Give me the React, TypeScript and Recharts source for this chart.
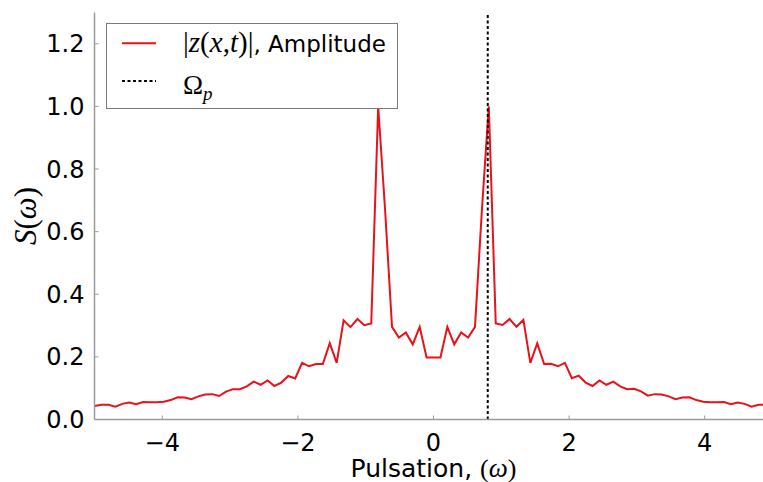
import { LineChart, Line, XAxis, YAxis, ReferenceLine, Legend, Label } from 'recharts';

// pulsation grid (omega) and normalised spectrum amplitude S(omega)
const omega = [
  -4.998, -4.896, -4.794, -4.692, -4.590, -4.488, -4.386, -4.284, -4.182, -4.080,
  -3.978, -3.876, -3.774, -3.672, -3.570, -3.468, -3.366, -3.264, -3.162, -3.060,
  -2.958, -2.856, -2.754, -2.652, -2.550, -2.448, -2.346, -2.244, -2.142, -2.040,
  -1.938, -1.836, -1.734, -1.632, -1.530, -1.428, -1.326, -1.224, -1.122, -1.020,
  -0.918, -0.816, -0.714, -0.612, -0.510, -0.408, -0.306, -0.204, -0.102, 0,
  0.102, 0.204, 0.306, 0.408, 0.510, 0.612, 0.714, 0.816, 0.918, 1.020,
  1.122, 1.224, 1.326, 1.428, 1.530, 1.632, 1.734, 1.836, 1.938, 2.040,
  2.142, 2.244, 2.346, 2.448, 2.550, 2.652, 2.754, 2.856, 2.958, 3.060,
  3.162, 3.264, 3.366, 3.468, 3.570, 3.672, 3.774, 3.876, 3.978, 4.080,
  4.182, 4.284, 4.386, 4.488, 4.590, 4.692, 4.794, 4.896, 4.998,
];

const amplitude = [
  0.043, 0.047, 0.047, 0.041, 0.050, 0.054, 0.049, 0.056, 0.055, 0.055,
  0.057, 0.062, 0.071, 0.070, 0.065, 0.074, 0.080, 0.081, 0.075, 0.089,
  0.097, 0.097, 0.106, 0.121, 0.111, 0.125, 0.107, 0.118, 0.139, 0.131,
  0.181, 0.170, 0.177, 0.177, 0.244, 0.181, 0.317, 0.295, 0.321, 0.301,
  0.307, 1.000, 0.670, 0.296, 0.262, 0.278, 0.240, 0.296, 0.198, 0.198,
  0.198, 0.296, 0.240, 0.278, 0.262, 0.296, 0.670, 1.000, 0.307, 0.302,
  0.321, 0.296, 0.318, 0.181, 0.243, 0.177, 0.178, 0.170, 0.181, 0.132,
  0.140, 0.118, 0.107, 0.125, 0.111, 0.121, 0.106, 0.097, 0.098, 0.090,
  0.076, 0.081, 0.080, 0.074, 0.065, 0.070, 0.071, 0.062, 0.057, 0.055,
  0.055, 0.056, 0.049, 0.054, 0.050, 0.041, 0.047, 0.047, 0.043,
];

const OMEGA_P = 0.8;
const xTicks = [-4, -2, 0, 2, 4];
const yTicks = [0, 0.2, 0.4, 0.6, 0.8, 1.0, 1.2];

const data = omega.map((w, i) => ({ omega: w, amp: amplitude[i] }));

const RED = '#e8121a';
const FRAME = '#9a9a9a';
const SANS = '"DejaVu Sans", sans-serif';
const MATH = '"Liberation Serif", serif';

const fmtX = (v: number) => (v < 0 ? `\u2212${Math.abs(v)}` : String(v));
const fmtY = (v: number) => v.toFixed(1);
const noTick = () => <g />;

function LegendBox() {
  return (
    <svg width={293} height={88} style={{ display: 'block' }}>
      <rect x={0.5} y={0.5} width={291} height={85} fill="#fff" stroke="#7a7a7a" strokeWidth={1} />
      <line x1={16} x2={50} y1={20.3} y2={20.3} stroke={RED} strokeWidth={2} />
      <text x={77} y={29.3} fontFamily={SANS} fontSize={23} fill="#000">
        <tspan fontFamily={MATH} fontSize={29}>|</tspan>
        <tspan fontFamily={MATH} fontSize={29} fontStyle="italic">z</tspan>
        <tspan fontFamily={MATH} fontSize={29}>(</tspan>
        <tspan fontFamily={MATH} fontSize={29} fontStyle="italic">x</tspan>
        <tspan fontFamily={MATH} fontSize={29}>,</tspan>
        <tspan fontFamily={MATH} fontSize={29} fontStyle="italic">t</tspan>
        <tspan fontFamily={MATH} fontSize={29}>)|</tspan>
        <tspan>, Amplitude</tspan>
      </text>
      <line x1={16} x2={50} y1={58} y2={58} stroke="#000" strokeWidth={2} strokeDasharray="3 2.5" />
      <text x={77} y={71} fontFamily={MATH} fontSize={27} fill="#000">
        <tspan>Ω</tspan>
        <tspan fontStyle="italic" fontSize={19} dy={6}>p</tspan>
      </text>
    </svg>
  );
}

function XLabel({ viewBox }: any) {
  const cx = viewBox.x + viewBox.width / 2;
  return (
    <text x={cx} y={viewBox.y + 57.5} textAnchor="middle" fontFamily={SANS} fontSize={25} fill="#000">
      <tspan>Pulsation, </tspan>
      <tspan fontFamily={MATH} fontSize={26}>(</tspan>
      <tspan fontFamily={MATH} fontSize={27} fontStyle="italic">ω</tspan>
      <tspan fontFamily={MATH} fontSize={26}>)</tspan>
    </text>
  );
}

function YLabel({ viewBox }: any) {
  const cy = viewBox.y + viewBox.height / 2;
  const x = 36;
  return (
    <text x={x} y={cy} transform={`rotate(-90, ${x}, ${cy})`} textAnchor="middle" fontFamily={MATH} fontSize={31} fill="#000">
      <tspan fontStyle="italic">S</tspan>
      <tspan>(</tspan>
      <tspan fontStyle="italic">ω</tspan>
      <tspan>)</tspan>
    </text>
  );
}

export default function App() {
  return (
    <div style={{ position: 'fixed', left: 0, top: 0, width: 763, height: 482, overflow: 'hidden', background: '#fff' }}>
      <LineChart width={800} height={482} data={data} margin={{ top: 12.5, right: 27.5, bottom: 0, left: 0.5 }}>
        <XAxis
          dataKey="omega" type="number" domain={[-5, 5]} ticks={xTicks} allowDataOverflow
          height={62.5} tickSize={-4} tickMargin={18} tickFormatter={fmtX}
          tick={{ fontFamily: SANS, fontSize: 24, fill: '#000' }}
          axisLine={{ stroke: FRAME, strokeWidth: 1.5 }} tickLine={{ stroke: FRAME }}
        >
          <Label content={<XLabel />} />
        </XAxis>
        <XAxis
          xAxisId="top" orientation="top" dataKey="omega" type="number" domain={[-5, 5]} ticks={xTicks}
          height={0} tickSize={-4} tick={noTick}
          axisLine={{ stroke: FRAME, strokeWidth: 1.5 }} tickLine={{ stroke: FRAME }}
        />
        <YAxis
          type="number" domain={[0, 1.3]} ticks={yTicks} allowDataOverflow
          width={94} tickSize={-4} tickMargin={14} tickFormatter={fmtY}
          tick={{ fontFamily: SANS, fontSize: 24, fill: '#000' }}
          axisLine={{ stroke: FRAME, strokeWidth: 1.5 }} tickLine={{ stroke: FRAME }}
        >
          <Label content={<YLabel />} />
        </YAxis>
        <YAxis
          yAxisId="right" orientation="right" type="number" domain={[0, 1.3]} ticks={yTicks}
          width={0} tickSize={-4} tick={noTick}
          axisLine={{ stroke: FRAME, strokeWidth: 1.5 }} tickLine={{ stroke: FRAME }}
        />
        <Line type="linear" dataKey="amp" stroke={RED} strokeWidth={2} dot={false} isAnimationActive={false} />
        <ReferenceLine x={OMEGA_P} stroke="#000" strokeWidth={2} strokeDasharray="3 2.5" ifOverflow="hidden" />
        <Legend
          layout="vertical" align="center" verticalAlign="middle"
          content={<LegendBox />}
          wrapperStyle={{ position: 'absolute', left: 106, top: 23, width: 293, height: 88, margin: 0 }}
        />
      </LineChart>
    </div>
  );
}
